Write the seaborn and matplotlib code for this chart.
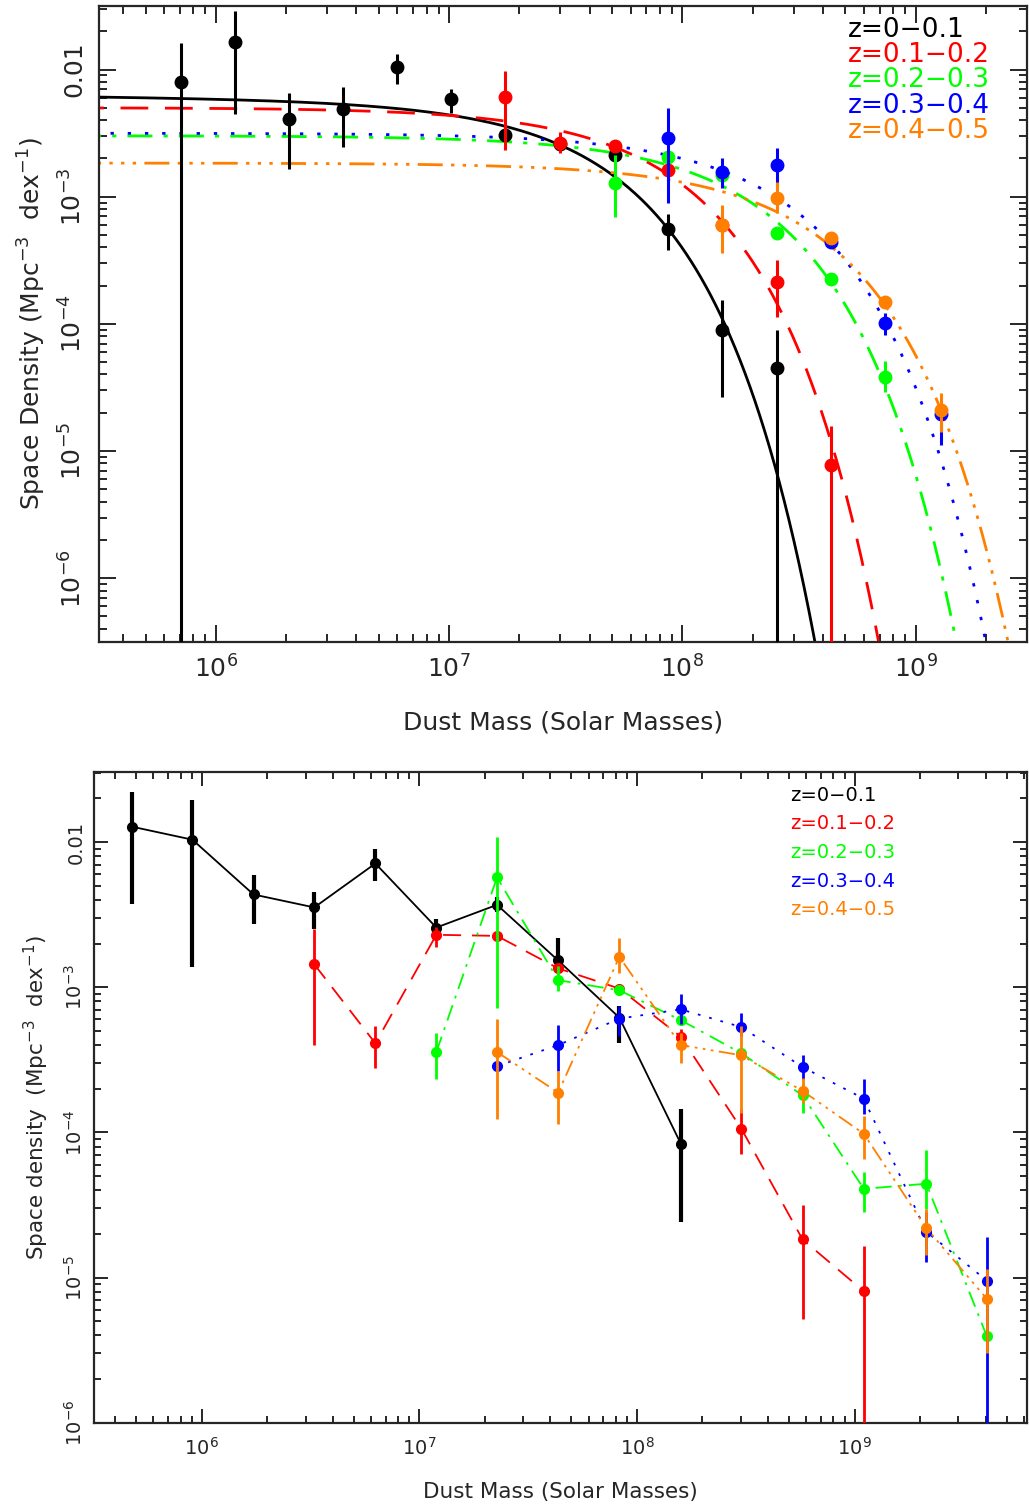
import numpy as np
import pandas as pd
import matplotlib
matplotlib.use('Agg')
import matplotlib.pyplot as plt
import matplotlib.ticker as mticker
import seaborn as sns

# redshift bins
labels = ['z=0\u22120.1', 'z=0.1\u22120.2', 'z=0.2\u22120.3', 'z=0.3\u22120.4', 'z=0.4\u22120.5']
colors = ['#000000', '#ff0000', '#00ff00', '#0000ff', '#ff8000']

# ---- top panel: 1/Vmax points + Schechter fits ----
top_mass = [7.08e5, 1.205e6, 2.06e6, 3.52e6, 5.98e6, 1.02e7, 1.73e7, 2.98e7,
            5.12e7, 8.71e7, 1.48e8, 2.54e8, 4.35e8, 7.40e8, 1.285e9]

top_idx = [list(range(0, 12)), list(range(6, 13)), list(range(8, 14)),
           list(range(9, 15)), list(range(10, 15))]

top_phi = [
    [7.98e-3, 1.656e-2, 4.06e-3, 4.86e-3, 1.04e-2, 5.83e-3, 3.05e-3, 2.59e-3, 2.13e-3, 5.57e-4, 8.95e-5, 4.50e-5],
    [6.08e-3, 2.66e-3, 2.51e-3, 1.62e-3, 6.0e-4, 2.15e-4, 7.78e-6],
    [1.29e-3, 2.06e-3, 1.48e-3, 5.15e-4, 2.24e-4, 3.79e-5],
    [2.91e-3, 1.56e-3, 1.77e-3, 4.43e-4, 1.01e-4, 1.96e-5],
    [6.0e-4, 9.82e-4, 4.76e-4, 1.50e-4, 2.10e-5],
]
top_hi = [
    [1.61e-2, 2.90e-2, 6.5e-3, 7.24e-3, 1.32e-2, 6.98e-3, 3.35e-3, 2.85e-3, 2.29e-3, 7.31e-4, 1.54e-4, 8.95e-5],
    [9.73e-3, 3.24e-3, 2.7e-3, 1.74e-3, 6.6e-4, 3.2e-4, 1.56e-5],
    [2.13e-3, 2.24e-3, 1.55e-3, 5.6e-4, 2.45e-4, 5.1e-5],
    [4.95e-3, 2.01e-3, 2.40e-3, 4.8e-4, 1.22e-4, 2.29e-5],
    [8.6e-4, 1.31e-3, 5.1e-4, 1.66e-4, 2.84e-5],
]
top_lo = [
    [1e-9, 4.45e-3, 1.64e-3, 2.44e-3, 7.69e-3, 4.57e-3, 2.79e-3, 2.35e-3, 1.97e-3, 3.81e-4, 2.66e-5, 1e-9],
    [2.33e-3, 2.19e-3, 2.32e-3, 1.51e-3, 5.4e-4, 1.14e-4, 1e-9],
    [6.97e-4, 1.9e-3, 1.41e-3, 4.7e-4, 2.04e-4, 2.93e-5],
    [8.87e-4, 1.17e-3, 1.24e-3, 4.07e-4, 8.18e-5, 1.12e-5],
    [3.61e-4, 7.45e-4, 4.4e-4, 1.35e-4, 1.42e-5],
]

# Schechter parameters
phi_star = [2.42e-3, 2.18e-3, 1.311e-3, 1.373e-3, 8.0e-4]
m_star = [3.8e7, 7.17e7, 1.629e8, 2.17e8, 2.87e8]
alpha = [-1.02, -1.0, -1.0, -1.0, -1.0]

# ---- bottom panel: binned points joined by lines ----
bot_mass = [4.76e5, 9.06e5, 1.73e6, 3.29e6, 6.28e6, 1.197e7, 2.275e7, 4.345e7,
            8.30e7, 1.589e8, 3.02e8, 5.77e8, 1.102e9, 2.138e9, 4.055e9]

bot_idx = [list(range(0, 10)), list(range(3, 13)), list(range(5, 15)),
           list(range(6, 15)), list(range(6, 15))]

bot_phi = [
    [1.28e-2, 1.04e-2, 4.36e-3, 3.55e-3, 7.13e-3, 2.58e-3, 3.70e-3, 1.53e-3, 6.18e-4, 8.39e-5],
    [1.44e-3, 4.11e-4, 2.30e-3, 2.26e-3, 1.35e-3, 9.8e-4, 4.57e-4, 1.06e-4, 1.83e-5, 8.05e-6],
    [3.58e-4, 5.71e-3, 1.12e-3, 9.53e-4, 5.94e-4, 3.51e-4, 1.80e-4, 4.09e-5, 4.43e-5, 3.94e-6],
    [2.86e-4, 4.0e-4, 6.08e-4, 7.05e-4, 5.32e-4, 2.82e-4, 1.71e-4, 2.07e-5, 9.53e-6],
    [3.58e-4, 1.88e-4, 1.62e-3, 4.0e-4, 3.4e-4, 1.93e-4, 9.8e-5, 2.19e-5, 7.13e-6],
]
bot_hi = [
    [2.20e-2, 1.96e-2, 5.94e-3, 4.54e-3, 8.91e-3, 2.94e-3, 4.17e-3, 2.18e-3, 7.43e-4, 1.46e-4],
    [2.51e-3, 5.41e-4, 2.59e-3, 2.45e-3, 1.48e-3, 1.05e-3, 5.2e-4, 1.44e-4, 3.18e-5, 1.64e-5],
    [4.88e-4, 1.08e-2, 1.40e-3, 1.02e-3, 6.46e-4, 3.8e-4, 2.14e-4, 5.36e-5, 7.52e-5, 6.0e-6],
    [3.1e-4, 5.47e-4, 7.43e-4, 9.06e-4, 6.7e-4, 3.4e-4, 2.34e-4, 2.85e-5, 1.91e-5],
    [6.01e-4, 2.65e-4, 2.20e-3, 4.88e-4, 5.41e-4, 2.38e-4, 1.29e-4, 2.98e-5, 1.14e-5],
]
bot_lo = [
    [3.73e-3, 1.37e-3, 2.72e-3, 2.51e-3, 5.36e-3, 2.32e-3, 3.31e-3, 1.27e-3, 4.16e-4, 2.40e-5],
    [3.98e-4, 2.79e-4, 1.91e-3, 2.09e-3, 1.23e-3, 9.1e-4, 4.0e-4, 7.05e-5, 5.21e-6, 1e-9],
    [2.32e-4, 7.24e-4, 9.42e-4, 8.9e-4, 5.5e-4, 3.24e-4, 1.37e-4, 2.82e-5, 2.95e-5, 3.0e-6],
    [2.64e-4, 2.65e-4, 4.61e-4, 5.56e-4, 4.61e-4, 2.32e-4, 1.33e-4, 1.28e-5, 1e-9],
    [1.23e-4, 1.14e-4, 1.26e-3, 3.03e-4, 1.37e-4, 1.60e-4, 6.52e-5, 1.42e-5, 3.04e-6],
]

top_styles = ['-', (0, (10, 6)), (0, (9, 4, 1.5, 4)), (0, (1.2, 5)), (0, (9, 3, 1.2, 3, 1.2, 3, 1.2, 3))]
bot_styles = ['-', (0, (10, 6)), (0, (9, 4, 1.5, 4)), (0, (1.5, 5)), (0, (9, 3, 1.5, 3, 1.5, 3, 1.5, 3))]


def schechter(m, ps, ms, a):
    # per dex
    return np.log(10) * ps * (m / ms) ** (a + 1) * np.exp(-m / ms)


def y_label_fmt(v, pos):
    if np.isclose(v, 0.01):
        return '0.01'
    return r'$10^{%d}$' % int(round(np.log10(v)))


def style_axes(ax, fs, maj, mnr, ypad):
    ax.set_xscale('log')
    ax.set_yscale('log')
    ax.tick_params(which='both', direction='in', top=True, right=True, width=1.4)
    ax.tick_params(which='major', length=maj, labelsize=fs)
    ax.tick_params(which='minor', length=mnr)
    ax.tick_params(axis='x', pad=10)
    ax.tick_params(axis='y', labelrotation=90, pad=ypad)
    for lab in ax.get_yticklabels():
        lab.set_va('center')
    ax.xaxis.set_major_locator(mticker.LogLocator(base=10, numticks=20))
    ax.xaxis.set_minor_locator(mticker.LogLocator(base=10, subs=np.arange(2, 10), numticks=100))
    ax.xaxis.set_minor_formatter(mticker.NullFormatter())
    ax.yaxis.set_major_locator(mticker.FixedLocator([1e-6, 1e-5, 1e-4, 1e-3, 1e-2]))
    ax.yaxis.set_minor_locator(mticker.LogLocator(base=10, subs=np.arange(2, 10), numticks=100))
    ax.yaxis.set_major_formatter(mticker.FuncFormatter(y_label_fmt))
    ax.yaxis.set_minor_formatter(mticker.NullFormatter())
    for sp in ax.spines.values():
        sp.set_linewidth(1.6)
        sp.set_visible(True)


sns.set_style('ticks')
plt.rcParams['font.family'] = ['DejaVu Sans']
plt.rcParams['mathtext.fontset'] = 'dejavusans'

fig = plt.figure(figsize=(10.29, 15.10), dpi=100)
ax1 = fig.add_axes([0.0962, 0.575, 0.9018, 0.421])
ax2 = fig.add_axes([0.0914, 0.0578, 0.9062, 0.4311])

# ---- top panel ----
ax1.set_xscale('log')
ax1.set_yscale('log')
grid = np.logspace(5.4, 9.6, 600)
for i in range(5):
    curve = pd.DataFrame({'m': grid, 'phi': schechter(grid, phi_star[i], m_star[i], alpha[i])})
    sns.lineplot(data=curve, x='m', y='phi', ax=ax1, color=colors[i], linewidth=2.0,
                 linestyle=top_styles[i], estimator=None, sort=False, zorder=2)
for i in range(5):
    m = np.array(top_mass)[top_idx[i]]
    p = np.array(top_phi[i])
    err = [p - np.array(top_lo[i]), np.array(top_hi[i]) - p]
    ax1.errorbar(m, p, yerr=err, fmt='o', color=colors[i], ms=9, elinewidth=2.2,
                 capsize=0, zorder=3 + i)

ax1.set_xlim(3.15e5, 3.0e9)
ax1.set_ylim(10 ** -6.5, 10 ** -1.5)
style_axes(ax1, 18, 12, 6, 9)
ax1.set_xlabel('Dust Mass (Solar Masses)', fontsize=18, labelpad=20)
ax1.set_ylabel('Space Density (Mpc$^{-3}$  dex$^{-1}$)', fontsize=18, labelpad=8)
for i in range(5):
    ax1.text(0.807, 0.962 - 0.0395 * i, labels[i], transform=ax1.transAxes,
             color=colors[i], fontsize=19, va='center', ha='left')

# ---- bottom panel ----
ax2.set_xscale('log')
ax2.set_yscale('log')
for i in range(5):
    m = np.array(bot_mass)[bot_idx[i]]
    p = np.array(bot_phi[i])
    pts = pd.DataFrame({'m': m, 'phi': p})
    sns.lineplot(data=pts, x='m', y='phi', ax=ax2, color=colors[i], linewidth=1.3,
                 linestyle=bot_styles[i], estimator=None, sort=False, zorder=2)
for i in range(5):
    m = np.array(bot_mass)[bot_idx[i]]
    p = np.array(bot_phi[i])
    err = [p - np.array(bot_lo[i]), np.array(bot_hi[i]) - p]
    ax2.errorbar(m, p, yerr=err, fmt='o', color=colors[i], ms=7,
                 elinewidth=3.0 if i == 0 else 2.0, capsize=0, zorder=3 + i)

ax2.set_xlim(3.2e5, 6.17e9)
ax2.set_ylim(1e-6, 10 ** -1.515)
style_axes(ax2, 14, 10, 5, 6)
ax2.set_xlabel('Dust Mass (Solar Masses)', fontsize=15.5, labelpad=17)
ax2.set_ylabel('Space density  (Mpc$^{-3}$  dex$^{-1}$)', fontsize=15.5, labelpad=9)
for i in range(5):
    ax2.text(0.746, 0.964 - 0.044 * i, labels[i], transform=ax2.transAxes,
             color=colors[i], fontsize=14, va='center', ha='left')

fig.savefig('out.png', dpi=100)
